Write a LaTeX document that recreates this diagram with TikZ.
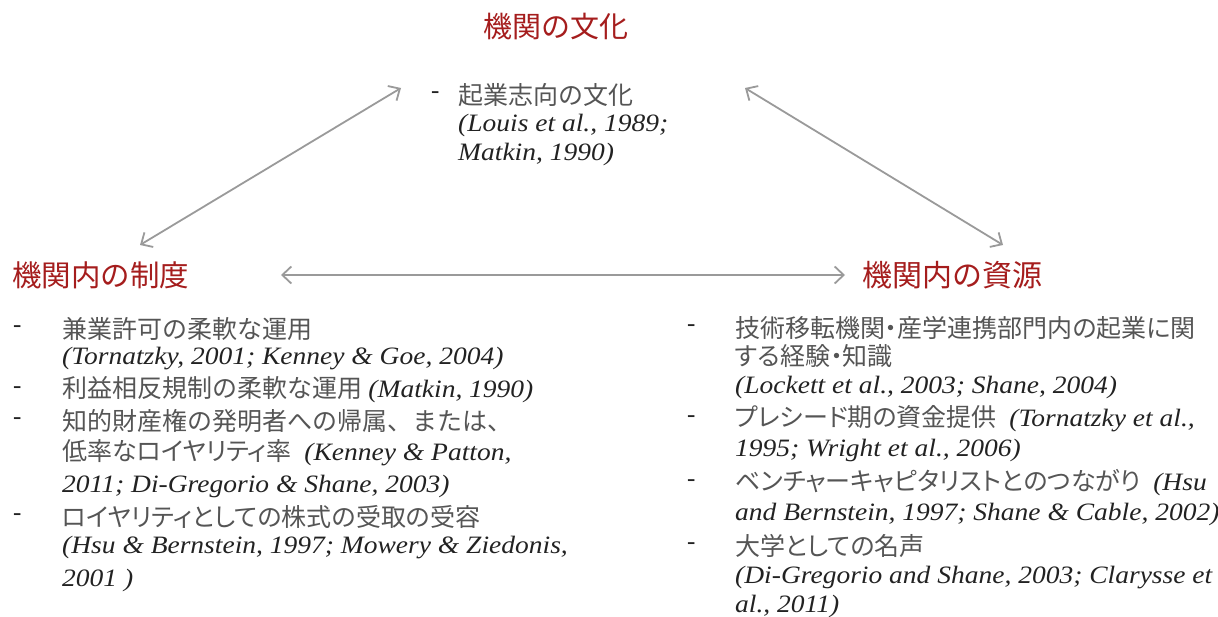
\documentclass[tikz,border=0pt]{standalone}
\usepackage{fontspec}
\setmainfont{Liberation Serif}
\newfontfamily\citefont{Liberation Serif}[FakeStretch=1.1]
\newfontfamily\jpfont{Noto Sans CJK JP}
\newfontfamily\jpnfont{Noto Sans CJK JP}[RawFeature=+palt]
\usetikzlibrary{arrows.meta}
\definecolor{titlered}{HTML}{A51D1D}
\definecolor{jpgray}{HTML}{555555}
\definecolor{citeblack}{HTML}{222222}
\definecolor{arrowgray}{HTML}{9A9A9A}
\newcommand{\jp}[1]{{\jpfont\color{jpgray}#1}}
\newcommand{\jpn}[1]{{\jpnfont\color{jpgray}#1}}
\newcommand{\ct}[1]{{\citefont\itshape\color{citeblack}#1}}
\tikzset{
  titletext/.style={inner sep=0pt, anchor=west, text=titlered},
  listline/.style={anchor=west, inner sep=0pt, font=\fontsize{25}{28}\selectfont},
  bullet/.style={anchor=west, inner sep=0pt, font=\fontsize{25}{28}\selectfont, text=citeblack},
  link/.style={draw=arrowgray, line width=1.8pt,
    {Straight Barb[length=9pt,width=17pt]}-{Straight Barb[length=9pt,width=17pt]}}
}
\begin{document}
\begin{tikzpicture}[x=1pt,y=-1pt]
\useasboundingbox (0,0) rectangle (1218,617);
% titles
\node[titletext, font=\jpfont\fontsize{29}{32}\selectfont] (tc) at (483,27) {機関の文化};
\node[titletext, font=\jpfont\fontsize{29.5}{32}\selectfont] (tl) at (12,275) {機関内の制度};
\node[titletext, font=\jpfont\fontsize{30}{32}\selectfont] (tr) at (862,275) {機関内の資源};
% top item
\node[bullet] (td) at (431,95) {-};
\node[listline] (t1) at (458,95) {\jp{起業志向の文化}};
\node[listline] (t2) at (458,125) {\ct{(Louis et al., 1989;}};
\node[listline] (t3) at (458,154) {\ct{Matkin, 1990)}};
% left list
\node[bullet] (ld1) at (13,329) {-};
\node[listline] (l1) at (62,329) {\jp{兼業許可の柔軟な運用}};
\node[listline] (l2) at (62,359) {\ct{(Tornatzky, 2001; Kenney \& Goe, 2004)}};
\node[bullet] (ld2) at (13,390) {-};
\node[listline] (l3) at (62,390) {\jp{利益相反規制の柔軟な運用} \ct{(Matkin, 1990)}};
\node[bullet] (ld3) at (13,421) {-};
\node[listline] (l4) at (62,421) {\jp{知的財産権の発明者への帰属、または、}};
\node[listline] (l5) at (62,453) {\jpn{低率なロイヤリティ率}\ \ \ct{(Kenney \& Patton,}};
\node[listline] (l6) at (62,486) {\ct{2011; Di-Gregorio \& Shane, 2003)}};
\node[bullet] (ld4) at (13,517) {-};
\node[listline] (l7) at (62,517) {\jpn{ロイヤリティとしての株式の受取の受容}};
\node[listline] (l8) at (62,548) {\ct{(Hsu \& Bernstein, 1997; Mowery \& Ziedonis,}};
\node[listline] (l9) at (62,580) {\ct{2001 )}};
% right list
\node[bullet] (rd1) at (687,328) {-};
\node[listline] (r1) at (735,328) {\jpn{技術移転機関・産学連携部門内の起業に関}};
\node[listline] (r2) at (735,356) {\jpn{する経験・知識}};
\node[listline] (r3) at (735,387) {\ct{(Lockett et al., 2003; Shane, 2004)}};
\node[bullet] (rd2) at (687,419) {-};
\node[listline] (r4) at (735,419) {\jpn{プレシード期の資金提供}\ \ \ct{(Tornatzky et al.,}};
\node[listline] (r5) at (735,450) {\ct{1995; Wright et al., 2006)}};
\node[bullet] (rd3) at (687,483) {-};
\node[listline] (r6) at (735,483) {\jpn{ベンチャーキャピタリストとのつながり}\ \ \ct{(Hsu}};
\node[listline] (r7) at (735,514) {\ct{and Bernstein, 1997; Shane \& Cable, 2002)}};
\node[bullet] (rd4) at (687,546) {-};
\node[listline] (r8) at (735,546) {\jpn{大学としての名声}};
\node[listline] (r9) at (735,578) {\ct{(Di-Gregorio and Shane, 2003; Clarysse et}};
\node[listline] (r10) at (735,606) {\ct{al., 2011)}};
% connectors
\coordinate (a1s) at (140,245);
\coordinate (a1e) at (401,88);
\coordinate (a2s) at (745,88);
\coordinate (a2e) at (1003,245);
\coordinate (a3s) at (281,275);
\coordinate (a3e) at (845,275);
\draw[link] (a1s) -- (a1e);
\draw[link] (a2s) -- (a2e);
\draw[link] (a3s) -- (a3e);
\end{tikzpicture}
\end{document}
